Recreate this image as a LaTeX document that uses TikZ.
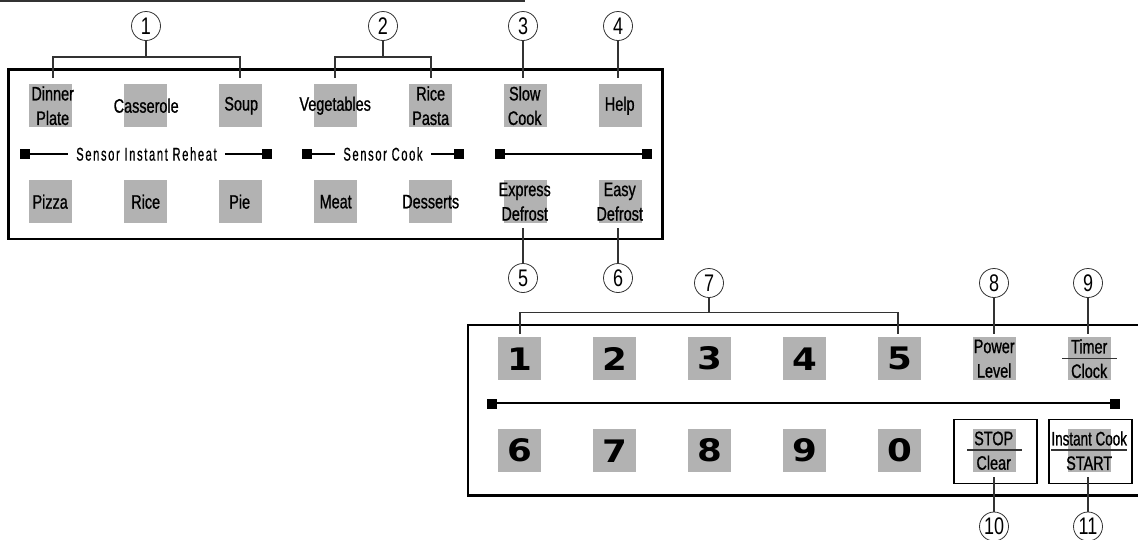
\documentclass[tikz,border=0pt]{standalone}
\usepackage{fontspec}
\setmainfont{Liberation Sans}
\newfontfamily\keyfont[FakeStretch=0.74,FakeBold=0.9]{Liberation Sans}
\newfontfamily\keynarrow[FakeStretch=0.69,FakeBold=0.9]{Liberation Sans}
\newfontfamily\sensorfont[FakeStretch=0.6,LetterSpace=9,FakeBold=0.6]{Liberation Sans}
\newfontfamily\numfont[FakeStretch=1.15]{DejaVu Sans Bold}
\newfontfamily\circfont[FakeStretch=0.75]{Liberation Sans}
\definecolor{keygrey}{HTML}{B2B2B2}
\definecolor{leadline}{HTML}{333333}
\tikzset{
  x=1pt,y=-1pt,
  frameline/.style={draw=black,line width=2.4pt},
  leader/.style={draw=leadline,line width=1.2pt},
  barline/.style={draw=black,line width=1.7pt},
  keybox/.style={fill=keygrey,minimum size=43pt,inner sep=0pt,anchor=north west},
  keylabel/.style={font=\fontsize{19.5}{24.5}\keyfont,align=center,inner sep=0pt,text=black},
  numlabel/.style={font=\fontsize{31}{31}\numfont,inner sep=0pt,text=black},
  callout/.style={circle,draw=leadline,line width=0.8pt,minimum size=29pt,inner sep=0pt,font=\fontsize{24}{24}\circfont},
  endsq/.style={fill=black,minimum size=10pt,inner sep=0pt},
  sensorlabel/.style={font=\fontsize{18.5}{18.5}\sensorfont,inner xsep=8pt,inner ysep=0pt},
  panelbtn/.style={draw=black,line width=1.5pt,minimum width=83pt,minimum height=64pt,inner sep=0pt,anchor=north west},
}
\newcommand{\keyt}[6]{% name, x, y, text, dx, dy
  \node[keybox] (#1) at (#2,#3) {};
  \node[keylabel] (#1t) at ([xshift=#5pt,yshift=-#6pt]#1.center) {#4};
}
\newcommand{\keyn}[4]{%
  \node[keybox] (#1) at (#2,#3) {};
  \node[numlabel] (#1t) at (#1.center) {#4};
}
\begin{document}
\begin{tikzpicture}
\useasboundingbox (0,0) rectangle (1138,539);
\draw[draw=leadline,line width=2pt] (0,0.5) coordinate (tl) -- (525,0.5) coordinate (tr);

% Upper panel
\keyt{dinner}{29}{84}{Dinner\\Plate}{2}{0}
\keyt{casserole}{124}{84}{Casserole}{0.5}{0}
\keyt{soup}{219}{84}{Soup}{0.5}{0}
\keyt{vegetables}{314}{84}{Vegetables}{-0.5}{0}
\keyt{ricepasta}{409}{84}{Rice\\Pasta}{0}{0}
\keyt{slowcook}{504}{84}{Slow\\Cook}{-1}{0}
\keyt{help}{599}{84}{Help}{-1}{0}
\keyt{pizza}{29}{180}{Pizza}{-0.5}{0}
\keyt{rice}{124}{180}{Rice}{0}{0}
\keyt{pie}{219}{180}{Pie}{-1}{0}
\keyt{meat}{314}{180}{Meat}{0}{0}
\keyt{desserts}{409}{180}{Desserts}{0}{0}
\keyt{express}{504}{180}{Express\\Defrost}{-1}{0}
\keyt{easy}{599}{180}{Easy\\Defrost}{-1}{0}
\draw[frameline] (8.5,69.5) rectangle (662.5,239);

% Sensor bars
\node[endsq] (s1l) at (25,154) {};
\node[endsq] (s1r) at (267,154) {};
\node[sensorlabel] (s1t) at (146.5,154) {Sensor Instant Reheat};
\draw[barline] (s1l) -- (s1t);
\draw[barline] (s1t) -- (s1r);
\node[endsq] (s2l) at (307,154) {};
\node[endsq] (s2r) at (459,154) {};
\node[sensorlabel] (s2t) at (383,154) {Sensor Cook};
\draw[barline] (s2l) -- (s2t);
\draw[barline] (s2t) -- (s2r);
\node[endsq] (s3l) at (500,154) {};
\node[endsq] (s3r) at (647,154) {};
\draw[barline] (s3l) -- (s3r);

% Callouts upper
\node[callout] (c1) at (146,26) {1};
\node[callout] (c2) at (383,26) {2};
\node[callout] (c3) at (523,26) {3};
\node[callout] (c4) at (618,26) {4};
\node[callout] (c5) at (523,278) {5};
\node[callout] (c6) at (618,278) {6};
\coordinate (b1) at (146,57);
\coordinate (b1l) at (53,57);
\coordinate (b1r) at (240,57);
\coordinate (e1l) at (53,78);
\coordinate (e1r) at (240,78);
\draw[leader] (c1.south) -- (b1);
\draw[leader] (e1l) -- (b1l) -- (b1r) -- (e1r);
\coordinate (b2) at (383,57);
\coordinate (b2l) at (335,57);
\coordinate (b2r) at (431,57);
\coordinate (e2l) at (335,78);
\coordinate (e2r) at (431,78);
\draw[leader] (c2.south) -- (b2);
\draw[leader] (e2l) -- (b2l) -- (b2r) -- (e2r);
\coordinate (e3) at (523,78);
\coordinate (e4) at (618,78);
\coordinate (e5) at (523,227.5);
\coordinate (e6) at (618,227.5);
\draw[leader] (c3.south) -- (e3);
\draw[leader] (c4.south) -- (e4);
\draw[leader] (c5.north) -- (e5);
\draw[leader] (c6.north) -- (e6);

% Lower panel
\keyn{k1}{498}{337}{1}
\keyn{k2}{593}{337}{2}
\keyn{k3}{688}{337}{3}
\keyn{k4}{783}{337}{4}
\keyn{k5}{878}{337}{5}
\keyt{power}{973}{337}{Power\\Level}{-0.5}{0}
\keyt{timer}{1068}{337}{Timer\\Clock}{-0.5}{0}
\keyn{k6}{498}{429}{6}
\keyn{k7}{593}{429}{7}
\keyn{k8}{688}{429}{8}
\keyn{k9}{783}{429}{9}
\keyn{k0}{878}{429}{0}
\keyt{stop}{973}{429}{STOP\\Clear}{-1}{0}
\keyt{start}{1068}{429}{{\keynarrow Instant Cook}\\START}{-0.5}{0}
\draw[frameline] (1140,325) -- (468,325) -- (468,495.5) -- (1140,495.5);
\node[panelbtn] (stopbox) at (953,418.5) {};
\node[panelbtn] (startbox) at (1048,418.5) {};
\coordinate (d1a) at (1062,358.7);
\coordinate (d1b) at (1117,358.7);
\coordinate (d2a) at (967,450);
\coordinate (d2b) at (1022,450);
\coordinate (d3a) at (1051,450);
\coordinate (d3b) at (1127,450);
\draw[leader] (d1a) -- (d1b);
\draw[leader] (d2a) -- (d2b);
\draw[leader] (d3a) -- (d3b);
\node[endsq] (s4l) at (492,404) {};
\node[endsq] (s4r) at (1115,404) {};
\draw[barline] (s4l.east |- 0,403.3) coordinate (s4a) -- (s4r.west |- 0,403.3) coordinate (s4b);

% Callouts lower
\node[callout] (c7) at (709,283) {7};
\node[callout] (c8) at (994,283) {8};
\node[callout] (c9) at (1088,283) {9};
\node[callout] (c10) at (994,526.5) {10};
\node[callout] (c11) at (1088,526.5) {11};
\coordinate (b7) at (709,312.7);
\coordinate (b7l) at (520,312.7);
\coordinate (b7r) at (898,312.7);
\coordinate (e7l) at (520,333.5);
\coordinate (e7r) at (898,333.5);
\draw[leader] (c7.south) -- (b7);
\draw[leader] (e7l) -- (b7l) -- (b7r) -- (e7r);
\coordinate (e8) at (994,333.5);
\coordinate (e9) at (1088,333.5);
\coordinate (e10) at (994,477);
\coordinate (e11) at (1088,477);
\draw[leader] (c8.south) -- (e8);
\draw[leader] (c9.south) -- (e9);
\draw[leader] (c10.north) -- (e10);
\draw[leader] (c11.north) -- (e11);
\end{tikzpicture}
\end{document}
